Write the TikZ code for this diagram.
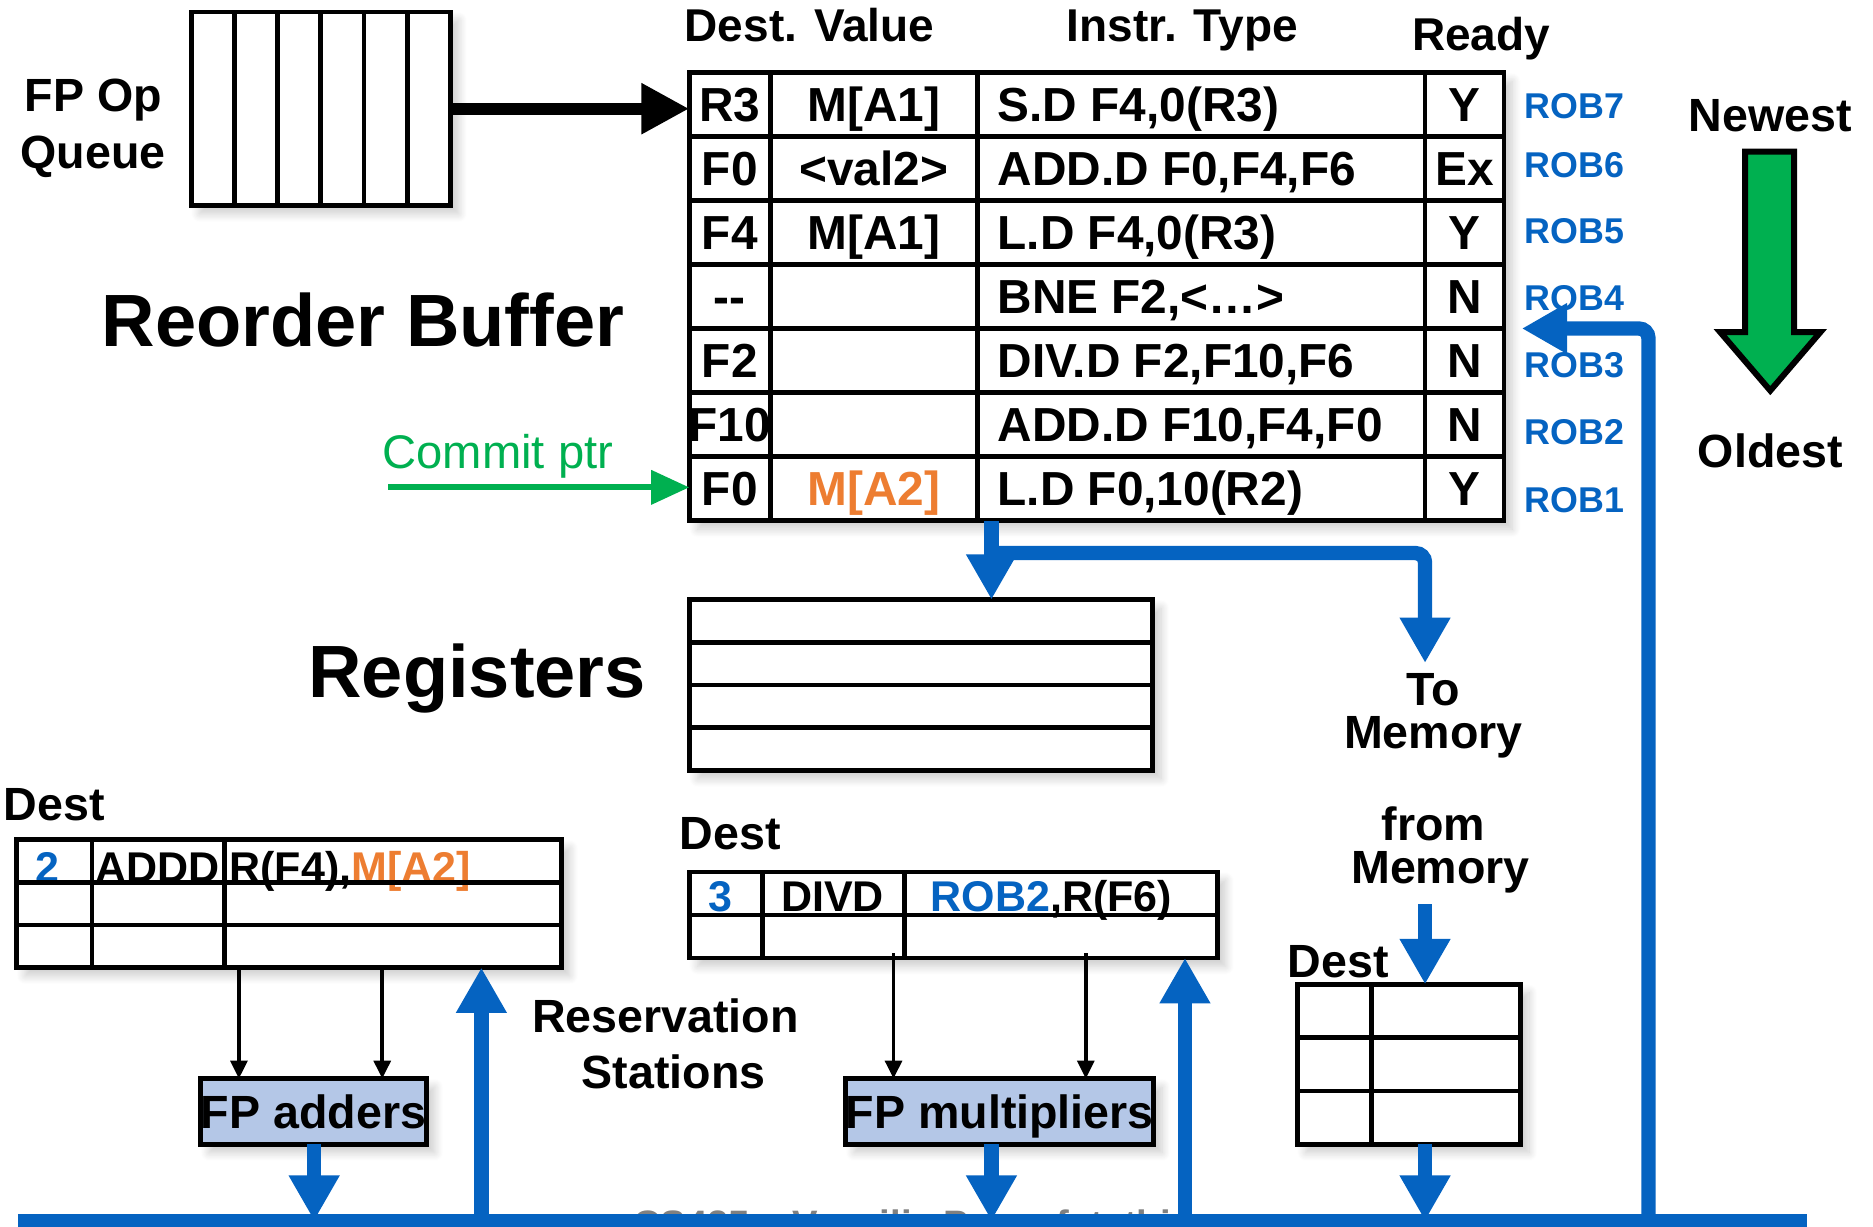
\documentclass[tikz,border=0pt]{standalone}
\usepackage{fontspec}
\setmainfont{Liberation Sans}
\usetikzlibrary{arrows.meta,shadows.blur}

\definecolor{robblue}{RGB}{5,99,193}
\definecolor{robor}{RGB}{237,125,49}
\definecolor{robgreen}{RGB}{0,176,80}
\definecolor{fucol}{RGB}{180,199,231}

\newcommand{\fsz}[1]{\fontsize{#1}{#1}\selectfont}

\begin{document}
\begin{tikzpicture}[x=1pt,y=-1pt,
    tbl/.style={draw,line width=4pt,inner sep=0pt,outer sep=0pt,anchor=north west,fill=white,
      blur shadow={shadow xshift=7pt,shadow yshift=-7pt,shadow opacity=20,shadow blur radius=7pt,shadow blur steps=10}},
    fu/.style={tbl,fill=fucol,font=\bfseries\fsz{39},text height=28pt,text depth=0pt},
    tline/.style={line width=4pt},
    cell/.style={anchor=base,inner sep=0pt,font=\bfseries\fsz{40}},
    rscell/.style={anchor=base,inner sep=0pt,font=\bfseries\fsz{36}},
    hdr/.style={anchor=base west,inner sep=0pt,font=\bfseries\fsz{38.5}},
    lbl/.style={anchor=base,inner sep=0pt,font=\bfseries\fsz{39}},
    dst/.style={lbl,anchor=base west},
    big/.style={anchor=base west,inner sep=0pt,font=\bfseries\fsz{62}},
    roblbl/.style={anchor=base west,inner sep=0pt,font=\bfseries\fsz{30},text=robblue},
    bus/.style={draw=robblue,line width=12pt},
    tap/.style={bus,-{Triangle[width=40pt,length=38pt]}},
    op/.style={line width=3pt,-{Triangle[width=14pt,length=15pt]}}]
    \useasboundingbox (0,0) rectangle (1568,1027);

    % op queue %
    \node[tbl,minimum width=217pt,minimum height=162pt] (queue) at (160,10) {};
    \foreach \x in {1,...,5} \draw[tline] ({160+217/6*\x},10) -- ({160+217/6*\x},172);
    \node[lbl] (fpop) at (78,93) {FP Op};
    \node[lbl] (fpq) at (78,141) {Queue};

    % reorder buffer %
    \node[tbl,minimum width=682pt,minimum height=375pt] (rob) at (577,61) {};
    \foreach \x in {645,818,1193} \draw[tline] (\x,61) -- (\x,436);
    \foreach \i in {1,...,6} \draw[tline] (577,{61+375/7*\i}) -- (1259,{61+375/7*\i});
    \node[hdr] (hval) at (573,35) {Dest. Value};
    \node[hdr] (hins) at (893,35) {Instr. Type};
    \node[hdr] (hrdy) at (1182,42) {Ready};
    \foreach \d/\v/\ins/\rd [count=\n from 0] in {R3/M[A1]/{S.D F4,0(R3)}/Y,
        F0/<val2>/{ADD.D F0,F4,F6}/Ex, F4/M[A1]/{L.D F4,0(R3)}/Y, -{}-//{BNE F2,<…>}/N,
        F2//{DIV.D F2,F10,F6}/N, F10//{ADD.D F10,F4,F0}/N,
        F0/{\textcolor{robor}{M[A2]}}/{L.D F0,10(R2)}/Y} {
      \node[cell] (d\n) at (611,{102+375/7*\n}) {\d};
      \node[cell] (v\n) at (731.5,{102+375/7*\n}) {\v};
      \node[cell,anchor=base west] (t\n) at (835,{102+375/7*\n}) {\ins};
      \node[cell] (r\n) at (1226,{102+375/7*\n}) {\rd};
    }
    \foreach \r/\yb in {7/99,6/149,5/204,4/260,3/316,2/372,1/429}
      \node[roblbl] (rob\r) at (1276,\yb) {ROB\r};
    \node[big] (robname) at (85,290) {Reorder Buffer};

    % commit pointer and issue %
    \node[anchor=base west,inner sep=0pt,font=\fsz{39.5},text=robgreen] (commit) at (320,392) {Commit ptr};
    \coordinate (cptr) at (325,408);
    \draw[robgreen,line width=5pt,-{Triangle[width=28pt,length=32pt]}] (cptr) -- (cptr -| rob.west);
    \draw[line width=10pt,-{Triangle[width=40pt,length=40pt]}] (queue.east) -- (queue.east -| rob.west);

    % newest / oldest %
    \node[lbl] (newest) at (1482,110) {Newest};
    \node[lbl] (oldest) at (1482,391) {Oldest};
    \draw[line width=5pt,fill=robgreen] (1461,127) -- (1502,127) -- (1502,278) -- (1524,278)
      -- (1482,327) -- (1440,278) -- (1461,278) -- cycle;

    % registers %
    \node[tbl,minimum width=388pt,minimum height=143pt] (regs) at (577,502) {};
    \foreach \i in {1,2,3} \draw[tline] (577,{502+143/4*\i}) -- (965,{502+143/4*\i});
    \node[big] (regname) at (258,584) {Registers};

    % reservation stations %
    \node[dst] (adddest) at (3,687) {Dest};
    \node[tbl,minimum width=456pt,minimum height=107pt] (rsadd) at (14,703) {};
    \node[rscell,text=robblue] (addtag) at (40,739) {2};
    \node[rscell] (addop) at (132,739) {ADDD};
    \node[rscell,anchor=base west] (addsrc) at (192,739) {R(F4),\textcolor{robor}{M[A2]}};
    \foreach \x in {77,188} \draw[tline] (\x,703) -- (\x,810);
    \foreach \i in {1,2} \draw[tline] (14,{703+107/3*\i}) -- (470,{703+107/3*\i});

    \node[dst] (muldest) at (569,711) {Dest};
    \node[tbl,minimum width=442pt,minimum height=72pt] (rsmul) at (577,730) {};
    \node[rscell,text=robblue] (multag) at (603,763) {3};
    \node[rscell] (mulop) at (697,763) {DIVD};
    \node[rscell,anchor=base west] (mulsrc) at (779,763) {\textcolor{robblue}{ROB2},R(F6)};
    \foreach \x in {638,757} \draw[tline] (\x,730) -- (\x,802);
    \draw[tline] (577,766) -- (1019,766);

    \node[lbl] (rsname) at (557,864) {Reservation};
    \node[lbl] (rsname2) at (564,911) {Stations};

    % functional units %
    \node[fu,minimum width=189pt,minimum height=55pt] (fpadd) at (168,903) {FP adders};
    \node[fu,minimum width=257pt,minimum height=55pt] (fpmul) at (708,903) {FP multipliers};
    \coordinate (addA) at (200,810);
    \coordinate (addB) at (320,810);
    \coordinate (mulA) at (748,798);
    \coordinate (mulB) at (909,798);
    \foreach \c in {addA,addB} \draw[op] (\c) -- (\c |- fpadd.north);
    \foreach \c in {mulA,mulB} \draw[op] (\c) -- (\c |- fpmul.north);

    % store buffer %
    \node[lbl] (tomem1) at (1200,591) {To};
    \node[lbl] (tomem2) at (1200,627) {Memory};
    \node[lbl] (frmem1) at (1200,704) {from};
    \node[lbl] (frmem2) at (1206,740) {Memory};
    \node[dst] (sbdest) at (1078,818) {Dest};
    \node[tbl,minimum width=187pt,minimum height=134pt] (sbuf) at (1086,824) {};
    \draw[tline] (1148,824) -- (1148,958);
    \foreach \i in {1,2} \draw[tline] (1086,{824+134/3*\i}) -- (1273,{824+134/3*\i});

    \node[anchor=base west,inner sep=0pt,font=\bfseries\fsz{32},text=gray] (footer) at (530,1036) {CS425 -- Vassilis Papaefstathiou};

    % common data bus %
    \coordinate (busL) at (15,1022);
    \coordinate (busR) at (1513,1022);
    \coordinate (tapadd) at (263,1022);
    \coordinate (tapmul) at (830,1022);
    \coordinate (tapsb) at (1193,1022);
    \coordinate (upadd) at (403,1022);
    \coordinate (upmul) at (992,1022);
    \coordinate (uprob) at (1380,1022);
    \coordinate (robin) at (1274,275);
    \coordinate (cjoin) at (830,463);
    \coordinate (tomem) at (1193,555);
    \coordinate (memin) at (1193,757);
    \draw[bus] (busL) -- (busR);
    \draw[tap] (tapadd |- fpadd.south) -- (tapadd);
    \draw[tap] (tapmul |- fpmul.south) -- (tapmul);
    \draw[tap] (tapsb |- sbuf.south) -- (tapsb);
    \draw[tap] (upadd) -- (upadd |- rsadd.south);
    \draw[tap] (upmul) -- (upmul |- rsmul.south);
    \draw[tap,rounded corners=8pt] (uprob) |- (robin);
    \draw[tap] (cjoin |- rob.south) -- (cjoin |- regs.north);
    \draw[tap,rounded corners=8pt] (cjoin) -| (tomem);
    \draw[tap] (memin) -- (memin |- sbuf.north);
\end{tikzpicture}
\end{document}
